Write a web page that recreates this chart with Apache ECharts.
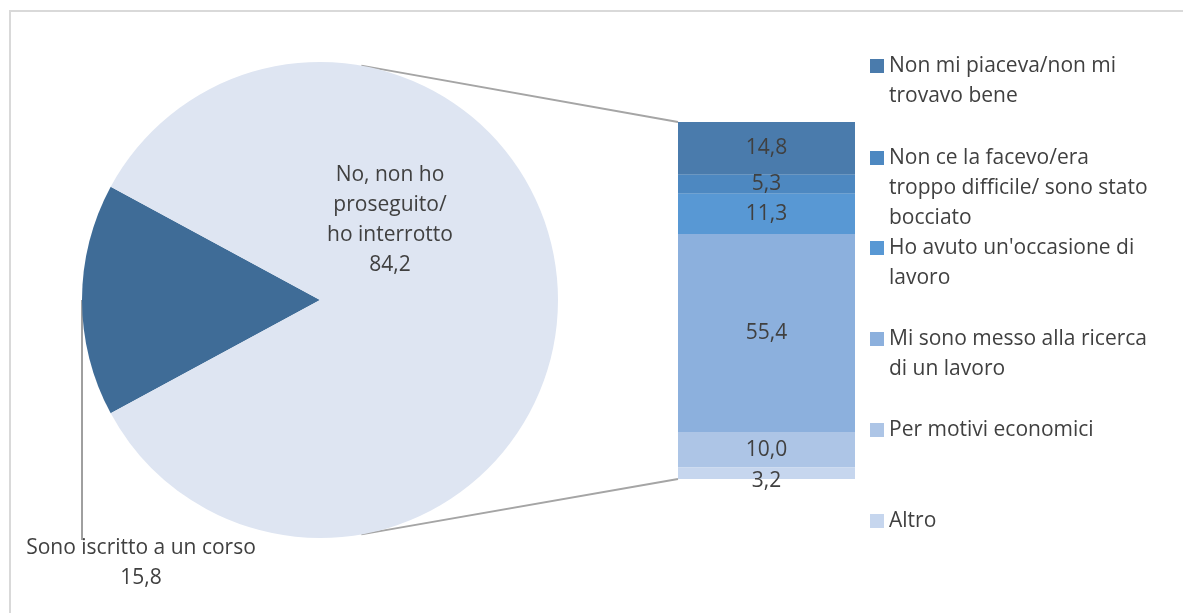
<!DOCTYPE html>
<html>
<head>
<meta charset="utf-8">
<script src="https://cdn.jsdelivr.net/npm/echarts@6/dist/echarts.min.js"></script>
<style>
  html, body { margin: 0; padding: 0; background: #fff; }
  #main { width: 1183px; height: 613px; }
</style>
</head>
<body>
<div id="main"></div>
<script>
// dati
var pieNames = ['Sono iscritto a un corso', 'No, non ho\nproseguito/\nho interrotto'];
var pieValues = [15.8, 84.2];
var reasonNames = [
    'Non mi piaceva/non mi\ntrovavo bene',
    'Non ce la facevo/era\ntroppo difficile/ sono stato\nbocciato',
    "Ho avuto un'occasione di\nlavoro",
    'Mi sono messo alla ricerca\ndi un lavoro',
    'Per motivi economici',
    'Altro'
];
var reasonValues = [14.8, 5.3, 11.3, 55.4, 10.0, 3.2];

var pieColors = ['#3f6c97', '#dee5f2'];
var reasonColors = ['#4a7bac', '#4d88c1', '#5898d4', '#8cb0dd', '#adc5e6', '#c6d6ee'];

var FONT = '"Open Sans", sans-serif';
var TEXT = '#404040';
var FS = 21;
var LH = 30;

var pieCenter = [320, 300];
var pieRadius = 238;
var gridLeft = 678, gridTop = 122, gridW = 177, gridH = 357;
var legendLeft = 870;
var legendIconY = [66, 158, 248, 339, 430, 521]; // centro del quadratino

function fmt(v) {
    return v.toFixed(1).replace('.', ',');
}

function nLines(s) {
    return s.split('\n').length;
}

var pieTotal = pieValues[0] + pieValues[1];
var startAngle = 180 + pieValues[0] / pieTotal * 180;

var chart = echarts.init(document.getElementById('main'));

var option = {
    animation: false,
    backgroundColor: '#fff',
    textStyle: { fontFamily: FONT, color: TEXT },
    grid: { left: gridLeft, top: gridTop, width: gridW, height: gridH },
    xAxis: { type: 'category', data: [''], show: false },
    yAxis: { type: 'value', min: 0, max: 100, inverse: true, show: false },
    // una legenda per voce, la prima riga allineata al quadratino
    legend: reasonNames.map(function (name, i) {
        var n = nLines(name);
        return {
            orient: 'vertical',
            left: legendLeft,
            top: legendIconY[i] - (2 * n - 1) * LH / 2,
            padding: 0,
            itemWidth: 14,
            itemHeight: 14,
            selectedMode: false,
            icon: 'rect',
            textStyle: { fontFamily: FONT, fontSize: FS, lineHeight: LH, color: TEXT },
            formatter: function (s) {
                return new Array(nLines(s)).join('\n') + s;
            },
            data: [name]
        };
    }),
    series: [{
        type: 'pie',
        center: pieCenter,
        radius: pieRadius,
        startAngle: startAngle,
        clockwise: true,
        silent: true,
        itemStyle: { borderWidth: 0 },
        label: {
            show: true,
            position: 'inside',
            fontFamily: FONT,
            fontSize: FS,
            lineHeight: LH,
            color: TEXT,
            align: 'center',
            formatter: function (p) { return p.name + '\n' + fmt(p.value); }
        },
        labelLine: { show: false },
        labelLayout: function (p) {
            if (p.dataIndex === 0) {
                return { x: pieCenter[0] - 179, y: pieCenter[1] + 263, align: 'center', verticalAlign: 'middle' };
            }
            return { x: pieCenter[0] + 70, y: pieCenter[1] - 80, align: 'center', verticalAlign: 'middle' };
        },
        data: pieValues.map(function (v, i) {
            return { name: pieNames[i], value: v, itemStyle: { color: pieColors[i] } };
        })
    }].concat(reasonValues.map(function (v, i) {
        return {
            type: 'bar',
            name: reasonNames[i],
            stack: 'motivi',
            barWidth: '100%',
            silent: true,
            itemStyle: { color: reasonColors[i] },
            label: {
                show: true,
                position: 'inside',
                offset: i === reasonValues.length - 1 ? [0, 8] : [0, 0],
                fontFamily: FONT,
                fontSize: FS,
                color: TEXT,
                formatter: function (p) { return fmt(p.value); }
            },
            data: [v]
        };
    }))
};

chart.setOption(option);

// linee di collegamento torta -> barra, linea guida e cornice
var barTopY = chart.convertToPixel({ yAxisIndex: 0 }, 0);
var barBotY = chart.convertToPixel({ yAxisIndex: 0 }, 100);
var a = 80 * Math.PI / 180;
var px = pieCenter[0] + pieRadius * Math.cos(a);
var pyTop = pieCenter[1] - pieRadius * Math.sin(a);
var pyBot = pieCenter[1] + pieRadius * Math.sin(a);
var lineStyle = { stroke: '#a5a5a5', lineWidth: 2 };

chart.setOption({
    graphic: [
        { type: 'line', silent: true, shape: { x1: px, y1: pyTop, x2: gridLeft, y2: barTopY }, style: lineStyle },
        { type: 'line', silent: true, shape: { x1: px, y1: pyBot, x2: gridLeft, y2: barBotY }, style: lineStyle },
        { type: 'line', silent: true, shape: { x1: pieCenter[0] - pieRadius, y1: pieCenter[1], x2: pieCenter[0] - pieRadius, y2: pieCenter[1] + 240 }, style: { stroke: '#404040', lineWidth: 1 } },
        { type: 'rect', silent: true, z: -1, shape: { x: 10, y: 11, width: 1300, height: 800 }, style: { fill: null, stroke: '#d9d9d9', lineWidth: 2 } }
    ]
});
</script>
</body>
</html>
